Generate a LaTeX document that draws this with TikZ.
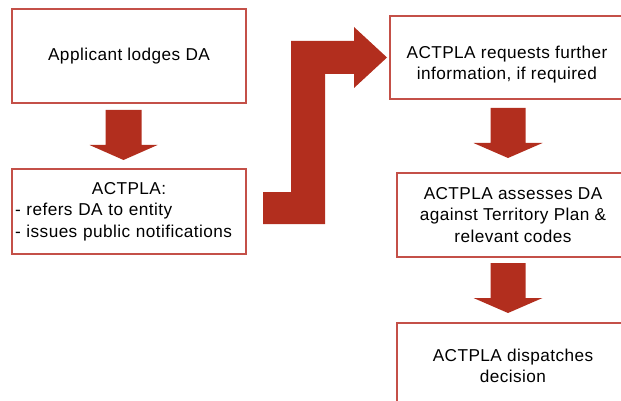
\documentclass[tikz,border=0pt]{standalone}
\usepackage{fontspec}
\setmainfont[LetterSpace=2.5]{Liberation Sans}
\definecolor{arrowred}{RGB}{178,46,30}
\definecolor{boxred}{RGB}{196,80,72}
\newcommand{\downblock}[6]
{   \fill[arrowred] ({#1-#2},#4) -- ({#1+#2},#4) -- ({#1+#2},#5) -- ({#1+#3},#5)
      -- (#1,#6) -- ({#1-#3},#5) -- ({#1-#2},#5) -- cycle;
}
\newcommand{\bentblock}
{   \fill[arrowred] (263,224) -- (325,224) -- (325,74) -- (354,74) -- (354,88) -- (387,57.5)
      -- (354,27) -- (354,41) -- (291,41) -- (291,192) -- (263,192) -- cycle;
}

\begin{document}
\begin{tikzpicture}[x=1pt,y=-1pt,
  stepbox/.style={draw=boxred, line width=1.5pt, fill=white, align=center,
    font=\fontsize{17.2}{21.5}\selectfont, inner sep=3pt}]
 \useasboundingbox (0,0) rectangle (621,401);

 \node[stepbox, minimum width=234pt, minimum height=94pt] (lodge) at (129,56) {Applicant lodges DA};
 \node[stepbox, minimum width=234pt, minimum height=85pt, text width=228pt, align=left] (refer) at (129,211.5)
   {\makebox[228pt]{ACTPLA:}\\- refers DA to entity\\- issues public notifications};
 \node[stepbox, minimum width=234pt, minimum height=83pt] (request) at (507,57.5)
   {\rule{0pt}{27pt}ACTPLA requests further\\information, if required};
 \node[stepbox, minimum width=232pt, minimum height=84pt] (assess) at (513,215)
   {ACTPLA assesses DA\\against Territory Plan \&\\relevant codes};
 \node[stepbox, minimum width=232pt, minimum height=86pt] (dispatch) at (513,366)
   {ACTPLA dispatches\\decision};

 \downblock{123.5}{18}{34}{110}{145}{160}
 \downblock{508}{17.5}{34.5}{108}{143}{158}
 \downblock{508}{17.5}{34.5}{263}{298}{313}
 \bentblock

\end{tikzpicture}
\end{document}
